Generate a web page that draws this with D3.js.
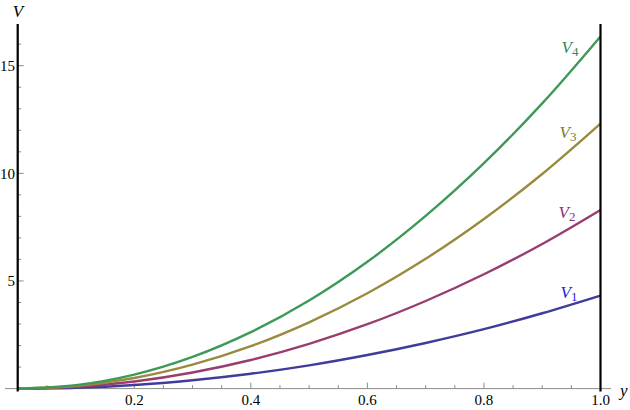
<!DOCTYPE html>
<html>
<head>
<meta charset="utf-8">
<script src="https://cdn.jsdelivr.net/npm/d3@7"></script>
<style>
  html, body { margin: 0; padding: 0; background: #fff; }
  svg { display: block; }
</style>
</head>
<body>
<svg id="chart" width="630" height="410" font-family="'Liberation Serif', 'Times New Roman', serif"></svg>
<script>
// ---- data ----
const yValues = [0, 0.1, 0.2, 0.3, 0.4, 0.5, 0.6, 0.7, 0.8, 0.9, 1.0];
const V1 = [0, 0.04, 0.17, 0.39, 0.69, 1.08, 1.56, 2.12, 2.76, 3.50, 4.32];
const V2 = [0, 0.08, 0.33, 0.75, 1.33, 2.08, 2.99, 4.07, 5.31, 6.72, 8.30];
const V3 = [0, 0.12, 0.49, 1.11, 1.97, 3.08, 4.43, 6.03, 7.88, 9.97, 12.31];
const V4 = [0, 0.16, 0.65, 1.47, 2.62, 4.09, 5.89, 8.02, 10.47, 13.25, 16.36];
const seriesNames = ["1", "2", "3", "4"];
const lineColors = ["#3f3d99", "#993d71", "#998b3d", "#3d9956"];
const labelColors = ["#2424d6", "#8c2a8c", "#807a2c", "#2e8b57"];
const xTickValues = [0.2, 0.4, 0.6, 0.8, 1.0];
const xTickLabels = ["0.2", "0.4", "0.6", "0.8", "1.0"];
const yTickValues = [5, 10, 15];
const yTickLabels = ["5", "10", "15"];

const series = [V1, V2, V3, V4];
const FONT = "Liberation Serif";

const svg = d3.select("#chart");
const x = d3.scaleLinear().domain([0, 1]).range([17.7, 600.5]);
const y = d3.scaleLinear().domain([0, 15]).range([388.6, 65.7]);

const axisGray = "#8c8c8c";

// x axis line
svg.append("line").attr("x1", 5).attr("x2", 611)
  .attr("y1", y(0)).attr("y2", y(0))
  .attr("stroke", axisGray).attr("stroke-width", 1);

// x minor / major ticks (pointing up)
const xMinor = d3.range(0.05, 1.001, 0.05);
svg.append("g").selectAll("line").data(xMinor).join("line")
  .attr("x1", d => x(d)).attr("x2", d => x(d))
  .attr("y1", y(0)).attr("y2", d => Math.abs(d * 5 - Math.round(d * 5)) < 1e-6 ? y(0) - 6 : y(0) - 3.5)
  .attr("stroke", axisGray).attr("stroke-width", 1);

// x tick labels
svg.append("g").selectAll("text").data(xTickValues).join("text")
  .attr("x", d => x(d)).attr("y", 405)
  .attr("font-family", FONT)
  .attr("text-anchor", "middle").attr("font-size", 15).attr("fill", "#000")
  .text((d, i) => xTickLabels[i]);

// y axis (gray, under the black line)
svg.append("line").attr("x1", x(0)).attr("x2", x(0))
  .attr("y1", 25).attr("y2", y(0))
  .attr("stroke", axisGray).attr("stroke-width", 1);

// y minor / major ticks (pointing right)
const yMinor = d3.range(1, 17, 1);
svg.append("g").selectAll("line").data(yMinor).join("line")
  .attr("x1", x(0)).attr("x2", d => d % 5 === 0 ? x(0) + 6 : x(0) + 3.5)
  .attr("y1", d => y(d)).attr("y2", d => y(d))
  .attr("stroke", axisGray).attr("stroke-width", 1);

// y tick labels
svg.append("g").selectAll("text").data(yTickValues).join("text")
  .attr("x", 15).attr("y", d => y(d) + 5.5)
  .attr("font-family", FONT)
  .attr("text-anchor", "end").attr("font-size", 15).attr("fill", "#000")
  .text((d, i) => yTickLabels[i]);

// axis labels
svg.append("text").attr("x", 18).attr("y", 17)
  .attr("font-family", FONT)
  .attr("text-anchor", "middle").attr("font-size", 17).attr("font-style", "italic")
  .text("V");
svg.append("text").attr("x", 620).attr("y", 396)
  .attr("font-family", FONT)
  .attr("font-size", 17).attr("font-style", "italic")
  .text("y");

// curves
const line = d3.line()
  .x((d, i) => x(yValues[i]))
  .y(d => y(d))
  .curve(d3.curveCatmullRom.alpha(0.5));

series.forEach((s, k) => {
  svg.append("path").attr("d", line(s))
    .attr("fill", "none").attr("stroke", lineColors[k])
    .attr("stroke-width", 2.4).attr("stroke-linejoin", "round");
});

// thick black vertical lines at y=0 and y=1
[0, 1].forEach(v => {
  svg.append("line").attr("x1", x(v)).attr("x2", x(v))
    .attr("y1", 24).attr("y2", y(0) + 3)
    .attr("stroke", "#000").attr("stroke-width", 2.2);
});

// series labels
const labelPos = [
  { dx: -40, dy: 2 },
  { dx: -42, dy: 8 },
  { dx: -41, dy: 14 },
  { dx: -39, dy: 17 }
];
series.forEach((s, k) => {
  const t = svg.append("text")
    .attr("x", x(1) + labelPos[k].dx)
    .attr("y", y(s[s.length - 1]) + labelPos[k].dy)
    .attr("font-family", FONT)
    .attr("font-size", 17).attr("fill", labelColors[k]);
  t.append("tspan").attr("font-style", "italic").text("V");
  t.append("tspan").attr("font-size", 13).attr("dy", 3).text(seriesNames[k]);
});
</script>
</body>
</html>
